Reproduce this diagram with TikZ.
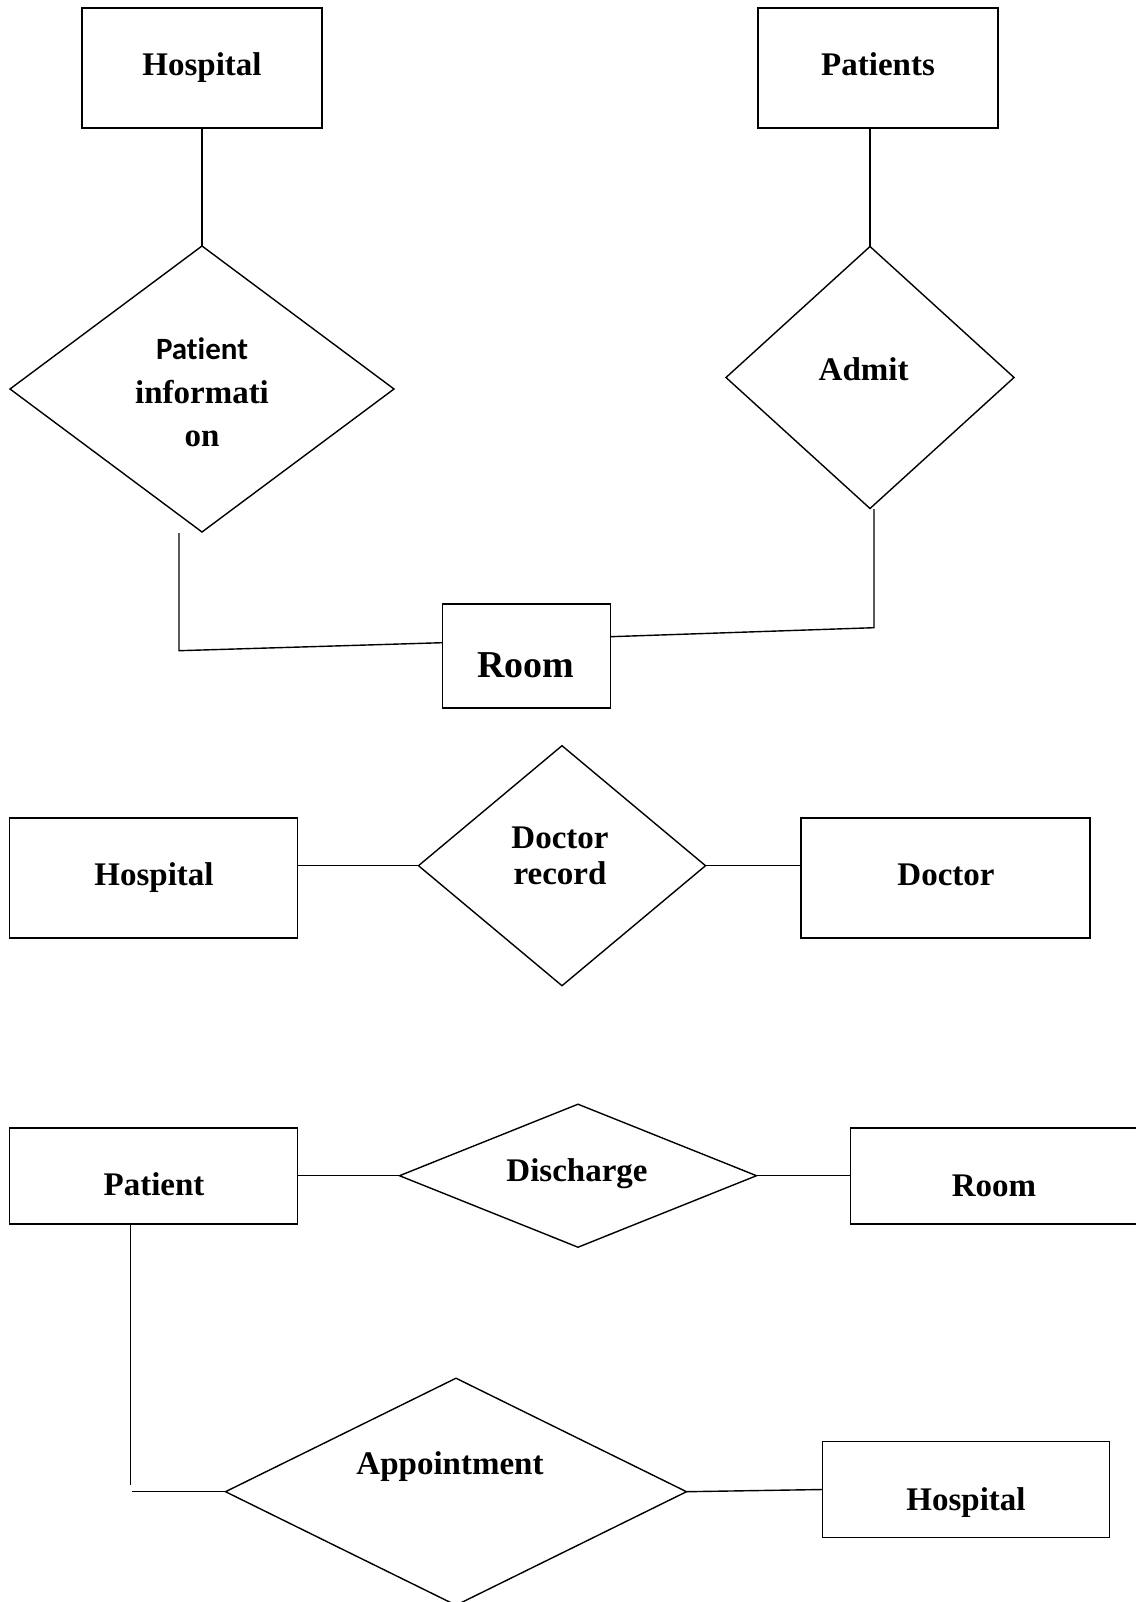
\documentclass[tikz,border=0pt]{standalone}
\usepackage{fontspec}
\setmainfont{Liberation Serif}
\newfontfamily\calibri[Ligatures=NoCommon]{Carlito}
\usetikzlibrary{shapes.geometric}

\begin{document}
\begin{tikzpicture}[x=1pt, y=-1pt, line width=1.4pt,
    entity/.style={draw, rectangle, line width=1.8pt, inner sep=0pt, outer sep=0pt},
    relation/.style={draw, diamond, inner sep=0pt, outer sep=0pt},
    word/.style={anchor=base, inner sep=0pt, font=\bfseries\fontsize{33}{40}\selectfont}]

\useasboundingbox (0,0) rectangle (1135,1602);

\node[entity, minimum width=240pt, minimum height=120pt] (hosp1) at (202,68) {};
\node[word] (hosp1-t) at (202,76) {Hospital};
\node[relation, minimum width=384pt, minimum height=286pt] (pinfo) at (202,389) {};
\node[word, font=\calibri\bfseries\fontsize{31}{38}\selectfont] (pinfo-a) at (202,359) {Patient};
\node[word] (pinfo-b) at (202,403.6) {informati};
\node[word] (pinfo-c) at (202,446) {on};

\node[entity, minimum width=240pt, minimum height=120pt] (pats) at (878,68) {};
\node[word] (pats-t) at (878,76) {Patients};
\node[relation, minimum width=288pt, minimum height=262pt] (admit) at (870,377.5) {};
\node[word] (admit-t) at (863.6,380.4) {Admit};

\node[entity, minimum width=168pt, minimum height=104pt] (room1) at (526.5,656.3) {};
\node[word, font=\bfseries\fontsize{38}{46}\selectfont] (room1-t) at (526,677.3) {Room};

\coordinate (pinfo-end) at (179,533);
\coordinate (pinfo-bend) at (179,650.7);
\coordinate (admit-end) at (874,509);
\coordinate (admit-bend) at (874,627.7);

\draw (hosp1) -- (pinfo);
\draw (admit.north |- pats.south) -- (admit.north);
\draw (pinfo-end) -- (pinfo-bend) -- ([yshift=13.6pt]room1.west);
\draw (admit-end) -- (admit-bend) -- ([yshift=19.6pt]room1.east);

\node[entity, minimum width=288pt, minimum height=120pt] (hosp2) at (153.5,877.7) {};
\node[word] (hosp2-t) at (154,885) {Hospital};
\node[relation, minimum width=287pt, minimum height=240pt] (docrec) at (562,865.7) {};
\node[word] (docrec-a) at (560,848.3) {Doctor};
\node[word] (docrec-b) at (560,884) {record};
\node[entity, minimum width=289pt, minimum height=120pt] (doc) at (945.7,877.7) {};
\node[word] (doc-t) at (946,885) {Doctor};

\draw (hosp2.east |- docrec.west) -- (docrec.west);
\draw (docrec.east) -- (doc.west |- docrec.east);

\node[entity, minimum width=288pt, minimum height=96pt] (pat3) at (153.5,1176) {};
\node[word] (pat3-t) at (154,1195.7) {Patient};
\node[relation, minimum width=357pt, minimum height=143pt] (disch) at (578,1175.7) {};
\node[word] (disch-t) at (577,1181.7) {Discharge};
\node[entity, minimum width=288pt, minimum height=96pt] (room3) at (994.5,1176) {};
\node[word] (room3-t) at (994,1196.7) {Room};

\draw (pat3.east |- disch.west) -- (disch.west);
\draw (disch.east) -- (room3.west |- disch.east);

\node[relation, minimum width=461pt, minimum height=227pt] (appt) at (456,1491.7) {};
\node[word] (appt-t) at (450,1474.3) {Appointment};
\node[entity, minimum width=287pt, minimum height=96pt] (hosp3) at (966,1489.5) {};
\node[word] (hosp3-t) at (966,1510) {Hospital};

\coordinate (pat3-end) at (130.3,1485);
\coordinate (appt-start) at (131.7,1491.7);

\draw (pat3.south -| pat3-end) -- (pat3-end);
\draw (appt-start) -- (appt.west);
\draw (appt.east) -- (hosp3.west);

\end{tikzpicture}
\end{document}
